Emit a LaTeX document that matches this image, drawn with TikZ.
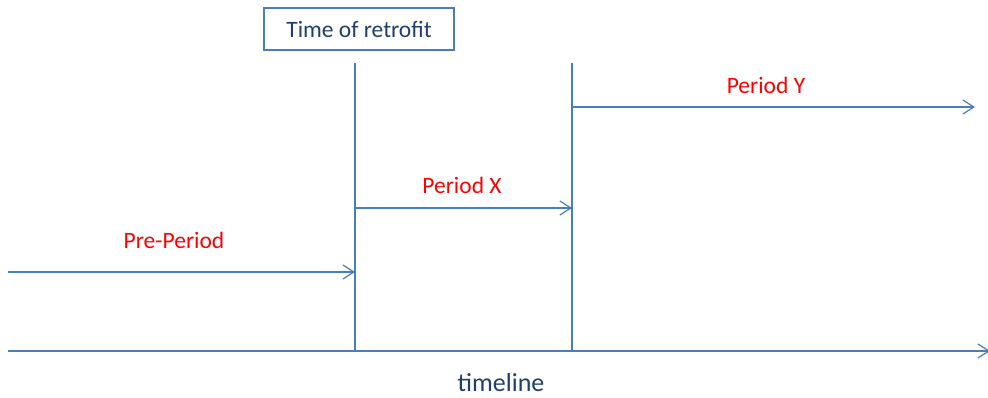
\documentclass[tikz,border=0pt]{standalone}
\usepackage{fontspec}
\setmainfont{Carlito}
\usetikzlibrary{arrows.meta}
\definecolor{lineblue}{HTML}{4A7EBB}
\definecolor{textblue}{HTML}{1F3F6E}
\definecolor{lblred}{HTML}{FF0000}
\begin{document}
\begin{tikzpicture}[x=1pt,y=-1pt,
  conn/.style={draw=lineblue,line width=1.3pt},
  arr/.style={conn,-{Straight Barb[length=11pt,width=14pt,line width=1.2pt]}},
  lbl/.style={text=lblred,font=\fontsize{23.5}{26}\selectfont,inner sep=0pt},
  tbox/.style={draw=lineblue,line width=1.3pt,text=textblue,font=\fontsize{23.5}{26}\selectfont,minimum width=190pt,minimum height=42pt,inner sep=0pt}]
\useasboundingbox (0,0) rectangle (988,398);
\node[tbox] (box) at (359,29) {Time of retrofit};
\coordinate (tl0) at (8,351);
\coordinate (tl1) at (990,351);
\coordinate (v1top) at (355,63);
\coordinate (v1bot) at (355,351);
\coordinate (v2top) at (572,63);
\coordinate (v2bot) at (572,351);
\coordinate (pre0) at (8,272);
\coordinate (pre1) at (355,272);
\coordinate (x0) at (355,208);
\coordinate (x1) at (572,208);
\coordinate (y0) at (572,107);
\coordinate (y1) at (975,107);
\draw[arr] (tl0) -- (tl1);
\draw[conn] (v1top) -- (v1bot);
\draw[conn] (v2top) -- (v2bot);
\draw[arr] (pre0) -- (pre1);
\draw[arr] (x0) -- (x1);
\draw[arr] (y0) -- (y1);
\node[lbl] (lpre) at (174,240) {Pre-Period};
\node[lbl] (lx) at (462,185) {Period X};
\node[lbl] (ly) at (766,85) {Period Y};
\node[text=textblue,font=\fontsize{26}{28}\selectfont,inner sep=0pt] (tl) at (501,383) {timeline};
\end{tikzpicture}
\end{document}
